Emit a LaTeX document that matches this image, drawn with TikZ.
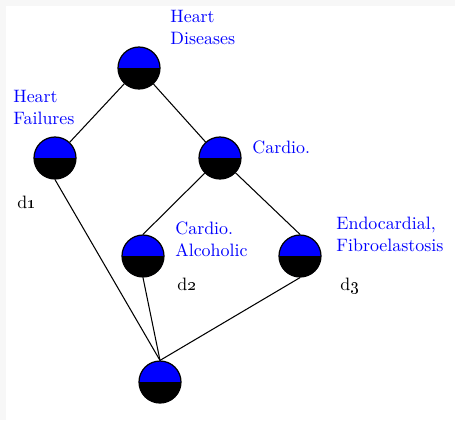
\documentclass[tikz,border=0pt]{standalone}
\usetikzlibrary{positioning}
\tikzset{
  hnode/.style={circle,draw=black,line width=0.7pt,fill=blue,minimum size=8.4mm,inner sep=0pt,
    path picture={\fill[black] (path picture bounding box.west) rectangle (path picture bounding box.south east);}}, % half blue / half black
  lbl/.style={font=\fontsize{10.2}{12.5}\selectfont,text=blue,align=left,inner sep=0pt,anchor=north west},
  dlbl/.style={font=\fontsize{10.2}{12.5}\selectfont,inner sep=0pt,anchor=base west},
  edge/.style={line width=0.6pt},
}
\begin{document}
\begin{tikzpicture}[x=0.02cm,y=-0.02cm]
  \fill[black!3] (0,0) rectangle (455,420);
  \fill[white] (6,6) rectangle (455,420);
  % lattice nodes
  \node[hnode] (hd) at (139,68) {};
  \node[hnode] (hf) at (55,158) {};
  \node[hnode] (ca) at (220,158) {};
  \node[hnode] (cal) at (143,256) {};
  \node[hnode] (en) at (300,256) {};
  \node[hnode] (bot) at (160,382) {};
  % labels
  \node[lbl] (lhd) at (170,10) {Heart\\Diseases};
  \node[lbl] (lhf) at (13,90) {Heart\\Failures};
  \node[lbl] (lca) at (252,141) {Cardio.};
  \node[lbl] (lcal) at (175,222) {Cardio.\\Alcoholic};
  \node[lbl] (len) at (336,217) {Endocardial,\\Fibroelastosis};
  \node[dlbl] (d1) at (17,208) {d\oldstylenums{1}};
  \node[dlbl] (d2) at (177,290) {d\oldstylenums{2}};
  \node[dlbl] (d3) at (340,290) {d\oldstylenums{3}};
  % edges
  \draw[edge] (hd) -- (hf);
  \draw[edge] (hd) -- (ca);
  \draw[edge] (ca) -- (cal.north);
  \draw[edge] (ca) -- (en.north);
  \draw[edge] (hf.south) -- (bot.north);
  \draw[edge] (cal.south) -- (bot.north);
  \draw[edge] (en.south) -- (bot.north);
\end{tikzpicture}
\end{document}
